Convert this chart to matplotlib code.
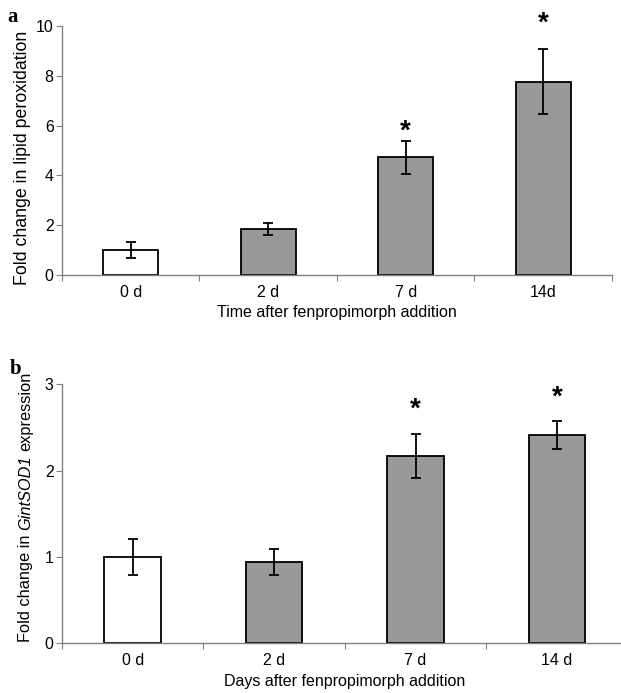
import matplotlib
matplotlib.use("Agg")
from matplotlib import pyplot as plt
from matplotlib import transforms

days_a = ["0 d", "2 d", "7 d", "14d"]
lipid_mean = [1.0, 1.83, 4.72, 7.77]
lipid_err = [0.32, 0.24, 0.67, 1.31]
lipid_star = [None, None, 5.94, 10.28]

days_b = ["0 d", "2 d", "7 d", "14 d"]
sod_mean = [1.0, 0.94, 2.17, 2.41]
sod_err = [0.21, 0.15, 0.25, 0.16]
sod_star = [None, None, 2.76, 2.90]

bar_colors = ["white", "#999999", "#999999", "#999999"]

plt.rcParams["font.family"] = ["Liberation Sans", "DejaVu Sans"]
plt.rcParams["font.size"] = 11.5

fig = plt.figure(figsize=(6.21, 6.93), dpi=100)
ax_a = fig.add_axes([0.0998, 0.6032, 0.8857, 0.3593])
ax_b = fig.add_axes([0.0998, 0.0717, 0.911, 0.3738])


def draw_panel(ax, labels, mean, err, stars, ymax, yticks):
    x = range(len(labels))
    ax.bar(x, mean, width=0.4, color=bar_colors, edgecolor="black", linewidth=1.3, zorder=2)
    ax.errorbar(x, mean, yerr=err, fmt="none", ecolor="black", elinewidth=1.3,
                capsize=3.5, capthick=1.3, zorder=3)
    star_tr = transforms.offset_copy(ax.transData, fig=fig, y=-5, units="dots")
    for i, s in enumerate(stars):
        if s is not None:
            ax.text(i, s, "*", ha="center", va="center", fontsize=20,
                    fontweight="bold", transform=star_tr, clip_on=False)
    ax.set_xlim(-0.5, len(labels) - 0.5)
    ax.set_ylim(0, ymax)
    ax.set_yticks(yticks)
    ax.set_xticks([i - 0.5 for i in range(len(labels) + 1)])
    ax.set_xticklabels([])
    ax.set_xticks(list(x), minor=True)
    ax.set_xticklabels(labels, minor=True)
    ax.tick_params(axis="x", which="minor", length=0, pad=7)
    ax.tick_params(axis="x", which="major", length=4, color="#808080")
    ax.tick_params(axis="y", length=4, color="#808080", pad=2)
    for side in ["top", "right"]:
        ax.spines[side].set_visible(False)
    for side in ["left", "bottom"]:
        ax.spines[side].set_color("#808080")
        ax.spines[side].set_linewidth(1.0)


draw_panel(ax_a, days_a, lipid_mean, lipid_err, lipid_star, 10, [0, 2, 4, 6, 8, 10])
ax_a.set_xlabel("Time after fenpropimorph addition", labelpad=4)
ax_a.set_ylabel("Fold change in lipid peroxidation", fontsize=12.8)
ax_a.yaxis.set_label_coords(-0.056, 0.47)

draw_panel(ax_b, days_b, sod_mean, sod_err, sod_star, 3, [0, 1, 2, 3])
ax_b.set_xlabel("Days after fenpropimorph addition", labelpad=4)

# y label of panel b with an italic gene name, built from pieces
pieces = [("Fold change in", "normal"), ("GintSOD1", "italic"), ("expression", "normal")]
fs = 11.8
gap = 0.278 * fs * 100 / 72
fig.canvas.draw()
renderer = fig.canvas.get_renderer()
arts = []
for txt, style in pieces:
    t = fig.text(0, 0, txt, rotation=90, fontsize=fs, style=style,
                 ha="left", va="baseline", rotation_mode="anchor",
                 transform=transforms.IdentityTransform())
    arts.append(t)
lengths = [t.get_window_extent(renderer).height for t in arts]
total = sum(lengths) + gap * (len(lengths) - 1)
x_px = 30
y0 = (0.0717 + 0.3738 / 2) * 693 - total / 2 + 7
for t, h in zip(arts, lengths):
    t.set_position((x_px, y0))
    y0 += h + gap

fig.text(0.012, 0.975, "a", fontsize=15, fontweight="bold",
         family=["Liberation Serif", "DejaVu Serif"], va="center")
fig.text(0.015, 0.468, "b", fontsize=15, fontweight="bold",
         family=["Liberation Serif", "DejaVu Serif"], va="center")

fig.savefig("out.png", dpi=100)
